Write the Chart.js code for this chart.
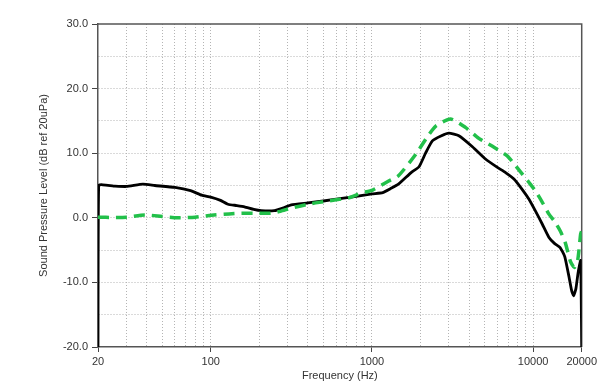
<!DOCTYPE html>
<html>
<head>
<meta charset="utf-8">
<script src="https://cdn.jsdelivr.net/npm/chart.js@4"></script>
<style>
  html, body { margin: 0; padding: 0; background: #fff; }
  #wrap { width: 600px; height: 388px; }
</style>
</head>
<body>
<div id="wrap"><canvas id="splChart" width="600" height="388"></canvas></div>
<script>
const FREQ_BLACK = [20, 20.2, 25, 30, 38, 45, 60, 75, 88, 100, 115, 128, 145, 162, 185, 206, 248, 280, 316, 400, 500, 650, 800, 1000, 1166, 1300, 1460, 1750, 1960, 2150, 2370, 2700, 3000, 3460, 4200, 5060, 6000, 6740, 7600, 8540, 9400, 10300, 11400, 12500, 13600, 14700, 15700, 16700, 17300, 17800, 18400, 19000, 19700, 20000];
const SPL_BLACK = [-20, 5.0, 4.9, 4.85, 5.2, 5.0, 4.7, 4.2, 3.5, 3.2, 2.7, 2.1, 1.9, 1.7, 1.3, 1.1, 1.1, 1.5, 2.0, 2.3, 2.6, 3.0, 3.3, 3.7, 3.9, 4.5, 5.2, 7.0, 7.9, 10.0, 11.9, 12.7, 13.1, 12.7, 11.0, 9.1, 7.8, 7.0, 6.0, 4.4, 2.9, 1.1, -1.0, -3.0, -4.0, -4.6, -6.0, -9.2, -11.2, -12.1, -11.0, -8.5, -6.6, -20];

const FREQ_GREEN = [20, 25, 30, 39, 50, 62, 80, 101, 130, 155, 200, 236, 270, 316, 400, 500, 720, 850, 1010, 1270, 1460, 1880, 2200, 2490, 3070, 3800, 4600, 5560, 6900, 7700, 8540, 9400, 10300, 11400, 12500, 13600, 14700, 15800, 17000, 18000, 18900, 19700, 20000];
const SPL_GREEN = [0.1, 0.05, 0.1, 0.45, 0.2, 0.0, 0.1, 0.4, 0.6, 0.7, 0.7, 0.7, 1.0, 1.5, 2.1, 2.5, 3.1, 3.8, 4.3, 5.7, 6.5, 9.9, 12.5, 14.2, 15.3, 14.0, 12.3, 11.1, 9.6, 8.2, 6.8, 5.5, 4.2, 2.4, 0.6, -0.6, -2.0, -3.8, -6.7, -7.7, -6.5, -2.5, -2.0];

const X_GRID_TICKS = [20, 30, 40, 50, 60, 70, 80, 90, 100, 200, 300, 400, 500, 600, 700, 800, 900, 1000, 2000, 3000, 4000, 5000, 6000, 7000, 8000, 9000, 10000, 20000];
const X_LABELED = [20, 100, 1000, 10000, 20000];

function toPoints(xs, ys) {
  return xs.map((x, i) => ({ x, y: ys[i] }));
}

const frameBox = {
  id: "frameBox",
  beforeDatasetsDraw(chart) {
    const { ctx, chartArea } = chart;
    ctx.save();
    ctx.strokeStyle = "#555";
    ctx.lineWidth = 1.5;
    ctx.beginPath();
    ctx.moveTo(chartArea.left, chartArea.top);
    ctx.lineTo(chartArea.right, chartArea.top);
    ctx.lineTo(chartArea.right, chartArea.bottom);
    ctx.stroke();
    ctx.restore();
  }
};

const tickFont = { family: "'Liberation Sans', Arial, sans-serif", size: 11 };

new Chart(document.getElementById("splChart"), {
  type: "line",
  data: {
    datasets: [
      {
        data: toPoints(FREQ_GREEN, SPL_GREEN),
        borderColor: "#22c04a",
        borderWidth: 3.5,
        borderDash: [11, 7],
        pointRadius: 0,
        tension: 0.2
      },
      {
        data: toPoints(FREQ_BLACK, SPL_BLACK),
        borderColor: "#000",
        borderWidth: 2.8,
        pointRadius: 0,
        tension: 0.15
      }
    ]
  },
  options: {
    responsive: false,
    animation: false,
    layout: { padding: { top: 24, right: 17, left: 0, bottom: 0 } },
    plugins: { legend: { display: false }, tooltip: { enabled: false } },
    scales: {
      x: {
        type: "logarithmic",
        min: 20,
        max: 20000,
        afterBuildTicks(scale) {
          scale.ticks = X_GRID_TICKS.map((v) => ({ value: v }));
        },
        afterFit(scale) {
          scale.height = 41;
        },
        ticks: {
          autoSkip: false,
          maxRotation: 0,
          padding: 3,
          color: "#333",
          font: tickFont,
          callback: (v) => (X_LABELED.includes(v) ? String(v) : "")
        },
        grid: {
          color: (ctx) => (ctx.tick && (ctx.tick.value === 20 || ctx.tick.value === 20000) ? "transparent" : "#b4b4b4"),
          tickColor: (ctx) => (ctx.tick && X_LABELED.includes(ctx.tick.value) ? "#444" : "transparent"),
          tickLength: 5,
          lineWidth: 1
        },
        border: { display: true, color: "#555", width: 1.5, dash: [1, 2] },
        title: {
          display: true,
          text: "Frequency (Hz)",
          color: "#333",
          font: tickFont,
          padding: { top: 0, bottom: 5 }
        }
      },
      y: {
        min: -20,
        max: 30,
        afterFit(scale) {
          scale.width = 98;
        },
        ticks: {
          stepSize: 5,
          padding: 4,
          color: "#333",
          font: tickFont,
          callback: (v) => (v % 10 === 0 ? v.toFixed(1) : "")
        },
        grid: {
          color: (ctx) => (ctx.tick && (ctx.tick.value === 30 || ctx.tick.value === -20) ? "transparent" : "#b4b4b4"),
          tickColor: (ctx) => (ctx.tick && ctx.tick.value % 10 === 0 ? "#444" : "transparent"),
          tickLength: 6,
          lineWidth: 1
        },
        border: { display: true, color: "#555", width: 1.5, dash: [1, 2] },
        title: {
          display: true,
          text: "Sound Pressure Level (dB ref 20uPa)",
          color: "#333",
          font: tickFont,
          padding: { top: 37, bottom: 0 }
        }
      }
    }
  },
  plugins: [frameBox]
});
</script>
</body>
</html>
